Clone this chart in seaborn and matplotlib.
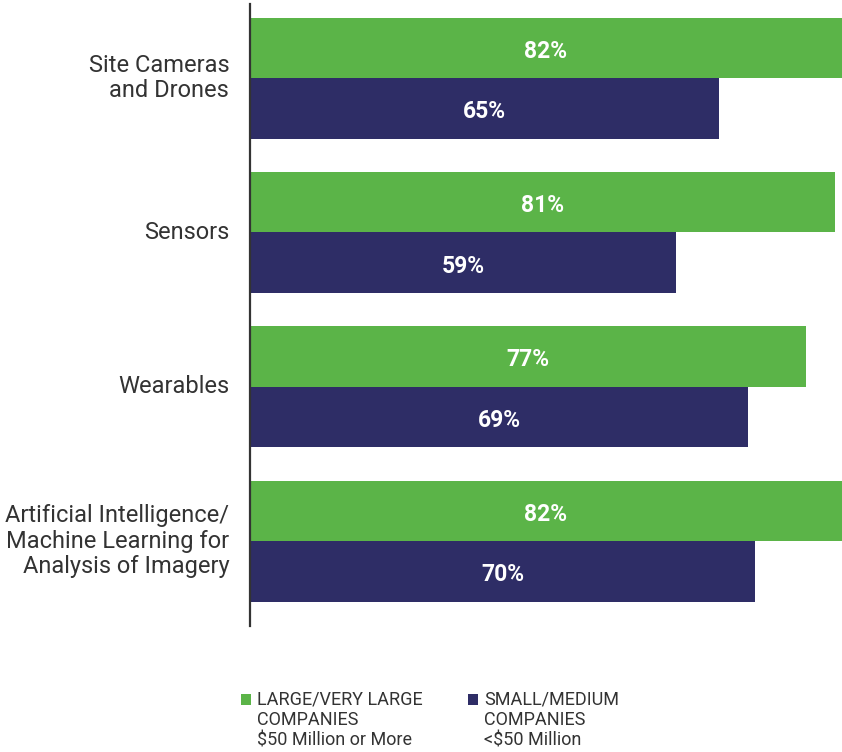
import matplotlib
matplotlib.use("Agg")
import matplotlib.pyplot as plt
from matplotlib.patches import Rectangle
import pandas as pd
import seaborn as sns

# Survey categories and shares (%) by company size
categories = [
    "Site Cameras\nand Drones",
    "Sensors",
    "Wearables",
    "Artificial Intelligence/\nMachine Learning for\nAnalysis of Imagery",
]
large_companies = [82, 81, 77, 82]
small_companies = [65, 59, 69, 70]
group_names = ["Large", "Small"]
legend_labels = [
    "LARGE/VERY LARGE\nCOMPANIES\n$50 Million or More",
    "SMALL/MEDIUM\nCOMPANIES\n<$50 Million",
]

GREEN = "#5BB448"
NAVY = "#2E2D66"
TEXT = "#333333"

df = pd.DataFrame({
    "category": categories * 2,
    "value": large_companies + small_companies,
    "group": [group_names[0]] * len(categories) + [group_names[1]] * len(categories),
})

sns.set_theme(style="white")
plt.rcParams["font.family"] = ["Roboto", "DejaVu Sans"]

W, H = 842, 752
fig = plt.figure(figsize=(W / 100, H / 100), dpi=100)
ax = fig.add_axes([250 / W, 1 - 626 / H, 1 - 250 / W, (626 - 4) / H])

sns.barplot(
    data=df, y="category", x="value", hue="group", orient="h",
    palette=[GREEN, NAVY], width=0.785, dodge=True, saturation=1,
    legend=False, ax=ax, errorbar=None, linewidth=0,
)

for cont in ax.containers:
    anns = ax.bar_label(cont, labels=[f"{v:.0f}%" for v in cont.datavalues],
                        label_type="center", color="white", fontsize=16.5,
                        fontweight="bold")
    for a in anns:
        a.xyann = (0, -2.5)

ax.set_xlim(0, 82)
ax.set_ylim(3.55, -0.48)
ax.set_xlabel("")
ax.set_ylabel("")
ax.set_xticks([])
for side in ["top", "right", "bottom"]:
    ax.spines[side].set_visible(False)
ax.spines["left"].set_color(TEXT)
ax.spines["left"].set_linewidth(1.6)
ax.tick_params(axis="y", length=0, pad=15, labelsize=17, labelcolor=TEXT)
for t in ax.get_yticklabels():
    t.set_linespacing(1.15)
    t.set_verticalalignment("center")

# Legend below the chart: coloured squares with three-line captions
for (sx, tx), color, label in zip([(241, 257), (468, 484)], [GREEN, NAVY], legend_labels):
    fig.add_artist(Rectangle((sx / W, 1 - 705 / H), 10 / W, 11 / H,
                             transform=fig.transFigure, color=color, lw=0))
    fig.text(tx / W, 1 - 690 / H, label, ha="left", va="top", fontsize=13,
             color=TEXT, linespacing=1.18)

fig.savefig("out.png", dpi=100)
